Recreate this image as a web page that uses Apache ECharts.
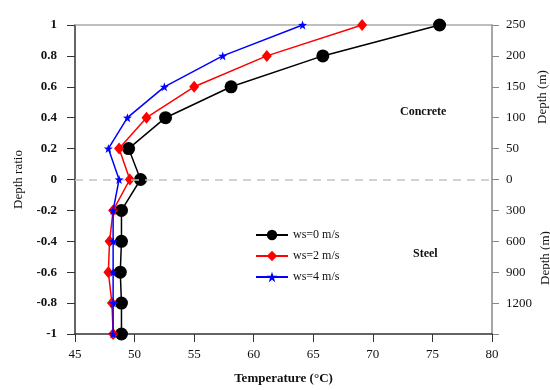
<!DOCTYPE html>
<html>
<head>
<meta charset="utf-8">
<script src="https://cdn.jsdelivr.net/npm/echarts@6/dist/echarts.min.js"></script>
<style>
  html, body { margin: 0; padding: 0; background: #fff; }
  #chart { width: 550px; height: 390px; }
</style>
</head>
<body>
<div id="chart"></div>
<script>
// depth ratio for each measured point (top of pile = 1, bottom = -1)
const depthRatio = [1, 0.8, 0.6, 0.4, 0.2, 0, -0.2, -0.4, -0.6, -0.8, -1];
// temperatures (°C)
const tempWs0 = [75.6, 65.8, 58.1, 52.6, 49.5, 50.5, 48.9, 48.9, 48.8, 48.9, 48.9];
const tempWs2 = [69.1, 61.1, 55.0, 51.0, 48.7, 49.6, 48.2, 47.9, 47.8, 48.1, 48.2];
const tempWs4 = [64.1, 57.4, 52.5, 49.4, 47.8, 48.7, 48.2, 48.2, 48.2, 48.2, 48.2];
const seriesNames = ["ws=0 m/s", "ws=2 m/s", "ws=4 m/s"];
// right axis labels, one per ratio tick from -1 to 1
const depthLabels = ["", "1200", "900", "600", "300", "0", "50", "100", "150", "200", "250"];

const font = "Liberation Serif";
const star = "path://M0,-10 L2.35,-3.24 L9.51,-3.09 L3.8,1.24 L5.88,8.09 L0,4 L-5.88,8.09 L-3.8,1.24 L-9.51,-3.09 L-2.35,-3.24 Z";

function pairs(temps) {
  return temps.map((t, i) => [t, depthRatio[i]]);
}

let chart = echarts.init(document.getElementById("chart"));
let option = {
  animation: false,
  textStyle: { fontFamily: font },
  grid: { left: 75, right: 58, top: 25, bottom: 55 },
  legend: {
    orient: "vertical",
    left: 250,
    top: 224,
    itemWidth: 32,
    itemHeight: 13,
    itemGap: 9,
    textStyle: { fontFamily: font, fontSize: 12, color: "#111" },
    data: seriesNames,
  },
  xAxis: [
    {
      type: "value",
      min: 45,
      max: 80,
      interval: 5,
      name: "Temperature (°C)",
      nameLocation: "middle",
      nameGap: 38,
      nameTextStyle: { fontFamily: font, fontSize: 13, fontWeight: "bold", color: "#111" },
      axisLine: { onZero: false, lineStyle: { color: "#333", width: 1.5 } },
      axisTick: { inside: false, length: 8, lineStyle: { color: "#333" } },
      axisLabel: { margin: 14, fontFamily: font, fontSize: 13, color: "#111" },
      splitLine: { show: false },
    },
    {
      type: "value",
      position: "top",
      min: 45,
      max: 80,
      axisLine: { show: true, onZero: false, lineStyle: { color: "#aaa", width: 1.5 } },
      axisTick: { show: false },
      axisLabel: { show: false },
      splitLine: { show: false },
    },
  ],
  yAxis: [
    {
      type: "value",
      min: -1,
      max: 1,
      interval: 0.2,
      name: "Depth ratio",
      nameLocation: "middle",
      nameGap: 48,
      nameTextStyle: { fontFamily: font, fontSize: 13, color: "#111" },
      axisLine: { show: true, onZero: false, lineStyle: { color: "#333", width: 1.5 } },
      axisTick: { show: true, length: 8, lineStyle: { color: "#333" } },
      axisLabel: {
        margin: 18,
        fontFamily: font,
        fontSize: 13,
        fontWeight: "bold",
        color: "#111",
        formatter: (v) => String(Math.round(v * 10) / 10),
      },
      splitLine: { show: false },
    },
    {
      type: "value",
      position: "right",
      min: -1,
      max: 1,
      interval: 0.2,
      axisLine: { show: true, onZero: false, lineStyle: { color: "#888", width: 1.5 } },
      axisTick: { show: true, length: 7, lineStyle: { color: "#888" } },
      axisLabel: {
        margin: 14,
        fontFamily: font,
        fontSize: 13,
        color: "#111",
        formatter: (v) => depthLabels[Math.round((v + 1) / 0.2)],
      },
      splitLine: { show: false },
    },
  ],
  graphic: [
    { type: "text", left: 400, top: 106, style: { text: "Concrete", font: "bold 12px " + font, fill: "#111" } },
    { type: "text", left: 413, top: 248, style: { text: "Steel", font: "bold 12px " + font, fill: "#111" } },
    { type: "text", x: 543, y: 97, rotation: Math.PI / 2, style: { text: "Depth (m)", font: "13px " + font, fill: "#111", align: "center", verticalAlign: "middle" } },
    { type: "text", x: 546, y: 258, rotation: Math.PI / 2, style: { text: "Depth (m)", font: "13px " + font, fill: "#111", align: "center", verticalAlign: "middle" } },
  ],
  series: [
    {
      name: seriesNames[0],
      type: "line",
      data: pairs(tempWs0),
      symbol: "circle",
      symbolSize: 13,
      lineStyle: { color: "#000", width: 1.5 },
      itemStyle: { color: "#000" },
      z: 3,
      markLine: {
        silent: true,
        symbol: "none",
        label: { show: false },
        lineStyle: { color: "#c4c4c4", type: [8, 6], width: 1.5 },
        data: [{ yAxis: 0 }],
      },
    },
    {
      name: seriesNames[1],
      type: "line",
      data: pairs(tempWs2),
      symbol: "diamond",
      symbolSize: [10, 12],
      lineStyle: { color: "#ff0000", width: 1.5 },
      itemStyle: { color: "#ff0000" },
      z: 4,
    },
    {
      name: seriesNames[2],
      type: "line",
      data: pairs(tempWs4),
      symbol: star,
      symbolSize: 9,
      lineStyle: { color: "#0000ff", width: 1.5 },
      itemStyle: { color: "#0000ff" },
      z: 5,
    },
  ],
};
chart.setOption(option);
</script>
</body>
</html>
